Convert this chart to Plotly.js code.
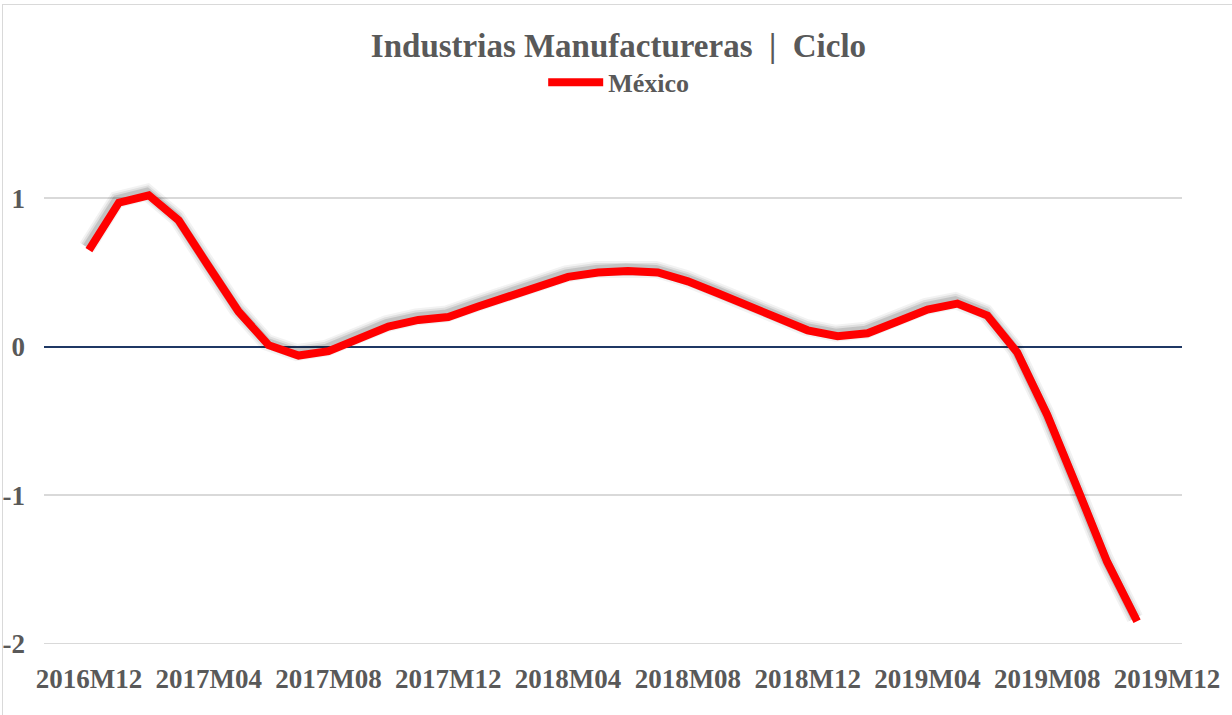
<!DOCTYPE html>
<html><head><meta charset="utf-8">
<script src="https://cdn.plot.ly/plotly-3.0.1.min.js"></script>
<style>
html,body{margin:0;padding:0;background:#fff;}
#chart{width:1232px;height:715px;}
#frame{position:absolute;left:2px;top:4px;width:1240px;height:720px;border:1.5px solid #d9d9d9;pointer-events:none;}
</style>
</head><body>
<div id="chart"></div><div id="frame"></div>
<script>
const months = ["2016M12",
 "2017M01","2017M02","2017M03","2017M04","2017M05","2017M06","2017M07","2017M08","2017M09","2017M10","2017M11","2017M12",
 "2018M01","2018M02","2018M03","2018M04","2018M05","2018M06","2018M07","2018M08","2018M09","2018M10","2018M11","2018M12",
 "2019M01","2019M02","2019M03","2019M04","2019M05","2019M06","2019M07","2019M08","2019M09","2019M10","2019M11","2019M12"];
const mexico = [0.65,
 0.97,1.02,0.85,0.54,0.235,0.01,-0.06,-0.03,0.05,0.135,0.18,0.20,
 0.27,0.34,0.41,0.47,0.50,0.51,0.50,0.44,0.36,0.28,0.19,0.11,
 0.07,0.09,0.17,0.25,0.29,0.21,-0.04,-0.46,-0.95,-1.45,-1.85,null];
const tickLabels = ["2016M12","2017M04","2017M08","2017M12","2018M04","2018M08","2018M12","2019M04","2019M08","2019M12"];
const yTicks = [-2,-1,0,1];

const FONT = "Liberation Serif, DejaVu Serif, serif";
const XR = [-1.5, 36.5], YR = [-2.01, 1.5];
// shadow offset: ~2px left, ~3px up, expressed as axis-range shifts
const dx = 2 * (XR[1]-XR[0]) / 1138, dy = 3 * (YR[1]-YR[0]) / 521;

const data = [
 {type:"scatter", mode:"lines", showlegend:false, hoverinfo:"skip", xaxis:"x", yaxis:"y",
  x:months, y:mexico, line:{color:"rgba(0,0,0,0)", width:1}},
 {type:"scatter", mode:"lines", showlegend:false, hoverinfo:"skip", xaxis:"x2", yaxis:"y2",
  x:months, y:mexico, line:{color:"rgba(0,0,0,0.05)", width:17}},
 {type:"scatter", mode:"lines", showlegend:false, hoverinfo:"skip", xaxis:"x2", yaxis:"y2",
  x:months, y:mexico, line:{color:"rgba(0,0,0,0.08)", width:13}},
 {type:"scatter", mode:"lines", showlegend:false, hoverinfo:"skip", xaxis:"x2", yaxis:"y2",
  x:months, y:mexico, line:{color:"rgba(0,0,0,0.12)", width:9}},
 {type:"scatter", mode:"lines", name:"México", xaxis:"x3", yaxis:"y3",
  x:months, y:mexico, line:{color:"#ff0000", width:8}}
];
const hidden = {showgrid:false, zeroline:false, showline:false, showticklabels:false, ticks:""};
const layout = {
  width:1232, height:715,
  paper_bgcolor:"#ffffff", plot_bgcolor:"#ffffff",
  margin:{l:44, r:50, t:124, b:70},
  title:{text:"<b>Industrias Manufactureras  |  Ciclo</b>", x:0.502, xanchor:"center", y:0.937, yanchor:"middle",
         font:{family:FONT, size:33, color:"#595959"}},
  showlegend:true,
  legend:{orientation:"h", x:0.505, xanchor:"center", y:1.08, yanchor:"middle",
          font:{family:FONT, size:26, color:"#595959", weight:"bold"}, itemwidth:55},
  xaxis:{type:"category", categoryorder:"array", categoryarray:months,
         range:XR, tickmode:"array", tickvals:tickLabels, ticktext:tickLabels.map(t=>"<b>"+t+"</b>"),
         showgrid:false, zeroline:false, showline:false, ticks:"", ticklabelstandoff:15,
         tickfont:{family:FONT, size:27, color:"#595959"}, tickangle:0, automargin:false},
  yaxis:{range:YR, tickmode:"array", tickvals:yTicks, ticktext:yTicks.map(t=>"<b>"+t+"</b>"),
         showgrid:true, gridcolor:"#d9d9d9", gridwidth:1.5,
         zeroline:true, zerolinecolor:"#1f3864", zerolinewidth:2,
         showline:false, ticks:"", ticklabelstandoff:18,
         tickfont:{family:FONT, size:27, color:"#595959"}, automargin:false},
  xaxis2:Object.assign({type:"category", categoryorder:"array", categoryarray:months, overlaying:"x",
         range:[XR[0]+dx, XR[1]+dx]}, hidden),
  yaxis2:Object.assign({overlaying:"y", range:[YR[0]-dy, YR[1]-dy]}, hidden),
  xaxis3:Object.assign({type:"category", categoryorder:"array", categoryarray:months, overlaying:"x",
         range:XR}, hidden),
  yaxis3:Object.assign({overlaying:"y", range:YR}, hidden)
};
Plotly.newPlot("chart", data, layout, {displayModeBar:false, staticPlot:true});
</script>
</body></html>
